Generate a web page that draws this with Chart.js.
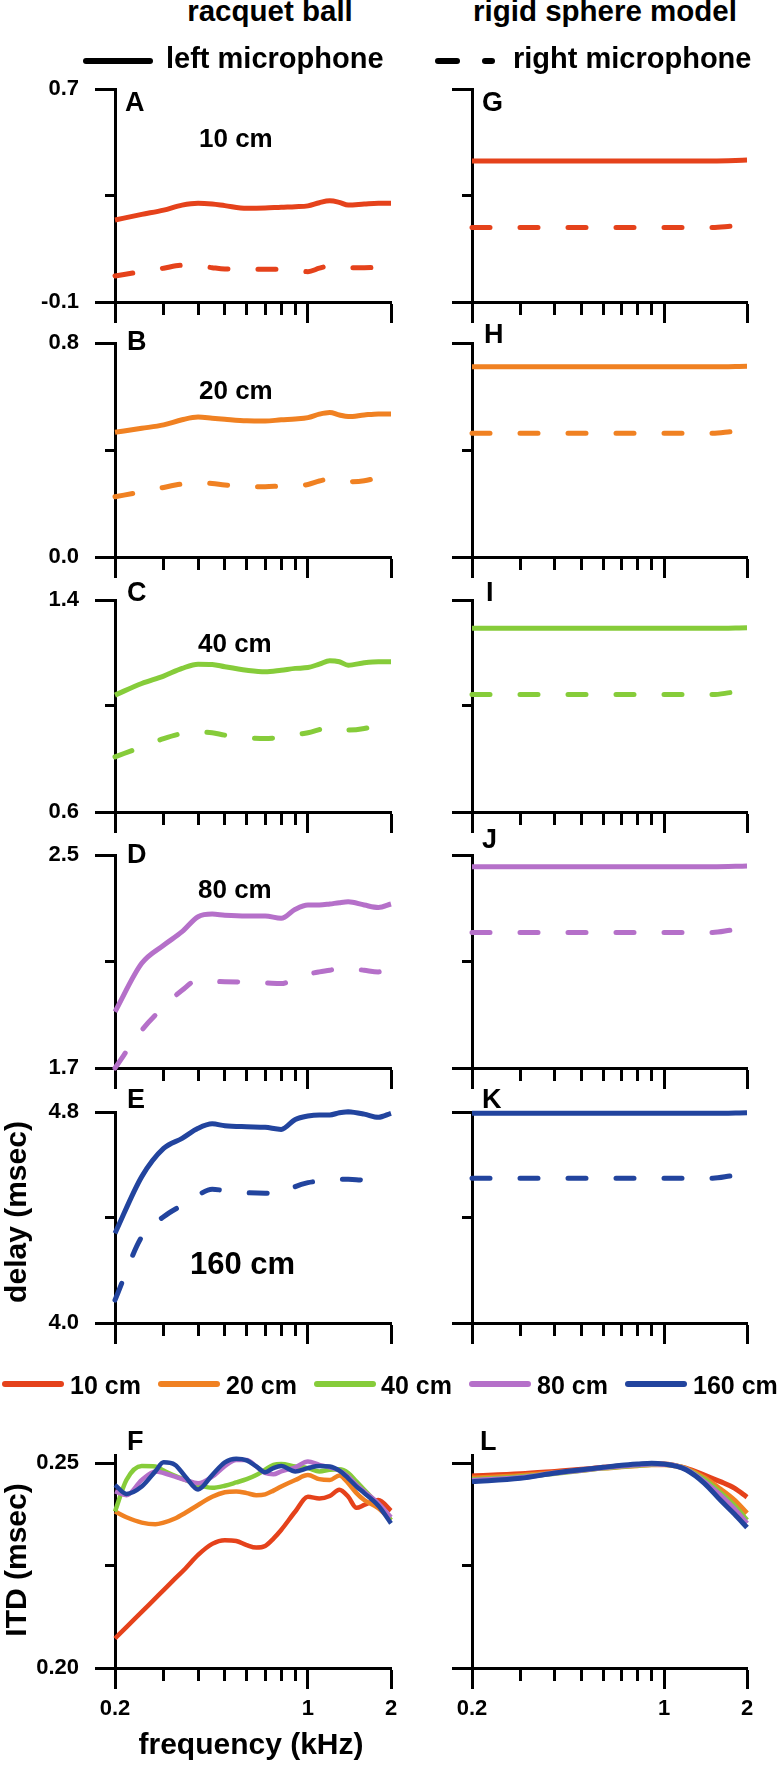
<!DOCTYPE html>
<html>
<head>
<meta charset="utf-8">
<title>delay and ITD vs frequency</title>
<script src="https://cdn.jsdelivr.net/npm/chart.js@4.4.0/dist/chart.umd.min.js"></script>
<style>
  body { margin: 0; background: #fff; }
  #page { position: relative; width: 779px; height: 1768px; overflow: hidden;
          font-family: "Liberation Sans", Arial, sans-serif; font-weight: bold; color: #000; }
  #page canvas { position: absolute; }
  .txt { position: absolute; white-space: nowrap; line-height: 1; }
  .bar { position: absolute; height: 6px; border-radius: 3px; }
</style>
</head>
<body>
<div id="page"></div>
<script>
// frequency axis (kHz)
const freqTicks = [0.2, 0.3, 0.4, 0.5, 0.6, 0.7, 0.8, 0.9, 1, 2];
const freqLabels = ['0.2', '', '', '', '', '', '', '', '1', '2'];
const freqMajor = [0.2, 1, 2];

const distances = ['10 cm', '20 cm', '40 cm', '80 cm', '160 cm'];
const colors = ['#e5421b', '#f08122', '#86cc3a', '#b570c9', '#22449e'];

// delay axes, one per row (msec)
const delayMin = [-0.1, 0.0, 0.6, 1.7, 4.0];
const delayMax = [0.7, 0.8, 1.4, 2.5, 4.8];
const delayMinText = ['-0.1', '0.0', '0.6', '1.7', '4.0'];
const delayMaxText = ['0.7', '0.8', '1.4', '2.5', '4.8'];

// racquet ball delays
const fDelay = [0.2, 0.25, 0.3, 0.35, 0.4, 0.45, 0.5, 0.6, 0.7, 0.8, 0.9, 1.0, 1.1, 1.2, 1.3, 1.4, 1.6, 1.8, 2.0];
const fDelayDash = [0.2, 0.25, 0.3, 0.35, 0.4, 0.45, 0.5, 0.6, 0.7, 0.8, 0.9, 1.0, 1.1, 1.2, 1.3, 1.4, 1.6, 1.75];

const ballLeft10 = [0.208, 0.229, 0.245, 0.264, 0.271, 0.268, 0.262, 0.252, 0.253, 0.256, 0.258, 0.261, 0.273, 0.280, 0.274, 0.264, 0.268, 0.271, 0.271];
const ballRight10 = [-0.002, 0.014, 0.027, 0.038, 0.036, 0.029, 0.024, 0.023, 0.023, 0.023, 0.018, 0.014, 0.027, 0.036, 0.032, 0.029, 0.029, 0.030];
const ballLeft20 = [0.466, 0.481, 0.494, 0.513, 0.523, 0.519, 0.515, 0.509, 0.508, 0.513, 0.516, 0.521, 0.534, 0.540, 0.531, 0.525, 0.531, 0.535, 0.535];
const ballRight20 = [0.225, 0.244, 0.260, 0.273, 0.278, 0.275, 0.269, 0.263, 0.263, 0.265, 0.266, 0.271, 0.284, 0.291, 0.288, 0.281, 0.285, 0.294];
const ballLeft40 = [1.041, 1.085, 1.113, 1.142, 1.158, 1.157, 1.148, 1.135, 1.129, 1.135, 1.142, 1.145, 1.158, 1.171, 1.167, 1.154, 1.163, 1.167, 1.167];
const ballRight40 = [0.808, 0.846, 0.877, 0.896, 0.902, 0.899, 0.890, 0.881, 0.877, 0.883, 0.892, 0.899, 0.911, 0.921, 0.917, 0.909, 0.915, 0.925];
const ballLeft80 = [1.911, 2.093, 2.161, 2.212, 2.268, 2.278, 2.274, 2.271, 2.271, 2.262, 2.296, 2.312, 2.312, 2.316, 2.321, 2.324, 2.312, 2.303, 2.316];
const ballRight80 = [1.700, 1.842, 1.929, 1.992, 2.030, 2.026, 2.024, 2.022, 2.020, 2.017, 2.036, 2.052, 2.061, 2.067, 2.074, 2.074, 2.067, 2.061, 2.083];
const ballLeft160 = [4.340, 4.555, 4.662, 4.700, 4.738, 4.755, 4.748, 4.744, 4.742, 4.734, 4.772, 4.785, 4.789, 4.789, 4.797, 4.801, 4.792, 4.780, 4.795];
const ballRight160 = [4.087, 4.327, 4.403, 4.447, 4.485, 4.507, 4.502, 4.494, 4.492, 4.489, 4.517, 4.532, 4.538, 4.542, 4.545, 4.545, 4.542, 4.549];

// rigid sphere model delays
const fModel = [0.2, 1.5, 2.0];
const fModelDash = [0.2, 1.5, 1.75];
const modelLeft10 = [0.430, 0.430, 0.433];
const modelRight10 = [0.180, 0.180, 0.185];
const modelLeft20 = [0.711, 0.711, 0.713];
const modelRight20 = [0.4625, 0.4625, 0.469];
const modelLeft40 = [1.293, 1.293, 1.295];
const modelRight40 = [1.043, 1.043, 1.051];
const modelLeft80 = [2.456, 2.456, 2.459];
const modelRight80 = [2.209, 2.209, 2.218];
const modelLeft160 = [4.795, 4.795, 4.797];
const modelRight160 = [4.549, 4.549, 4.558];

// ITD (msec)
const fItd = [0.2, 0.22, 0.25, 0.28, 0.3, 0.33, 0.36, 0.4, 0.45, 0.5, 0.55, 0.6, 0.65, 0.7, 0.75, 0.8, 0.9, 1.0, 1.1, 1.2, 1.3, 1.4, 1.5, 1.6, 1.8, 2.0];
const itdBall10 = [0.2072, 0.2100, 0.2137, 0.2170, 0.2190, 0.2218, 0.2243, 0.2276, 0.2303, 0.2312, 0.2310, 0.2300, 0.2294, 0.2298, 0.2316, 0.2337, 0.2382, 0.2418, 0.2414, 0.2420, 0.2435, 0.2418, 0.2391, 0.2398, 0.2410, 0.2384];
const itdBall20 = [0.2382, 0.2368, 0.2355, 0.2351, 0.2355, 0.2365, 0.2379, 0.2398, 0.2418, 0.2429, 0.2431, 0.2427, 0.2422, 0.2424, 0.2433, 0.2443, 0.2459, 0.2471, 0.2461, 0.2459, 0.2470, 0.2451, 0.2427, 0.2410, 0.2390, 0.2361];
const itdBall40 = [0.2382, 0.2459, 0.2493, 0.2492, 0.2482, 0.2469, 0.2459, 0.2447, 0.2440, 0.2445, 0.2453, 0.2461, 0.2471, 0.2484, 0.2496, 0.2498, 0.2492, 0.2488, 0.2480, 0.2484, 0.2485, 0.2476, 0.2455, 0.2435, 0.2398, 0.2361];
const itdBall80 = [0.2431, 0.2422, 0.2459, 0.2480, 0.2476, 0.2467, 0.2459, 0.2451, 0.2467, 0.2493, 0.2508, 0.2508, 0.2492, 0.2476, 0.2473, 0.2480, 0.2490, 0.2504, 0.2496, 0.2490, 0.2482, 0.2467, 0.2447, 0.2431, 0.2402, 0.2368];
const itdBall160 = [0.2447, 0.2425, 0.2443, 0.2480, 0.2502, 0.2496, 0.2467, 0.2436, 0.2471, 0.2502, 0.2511, 0.2507, 0.2492, 0.2478, 0.2488, 0.2493, 0.2480, 0.2488, 0.2493, 0.2492, 0.2482, 0.2463, 0.2443, 0.2427, 0.2396, 0.2353];

const fItdModel = [0.2, 0.3, 0.4, 0.5, 0.6, 0.7, 0.8, 0.9, 1.0, 1.1, 1.2, 1.4, 1.6, 1.8, 2.0];
const itdModel10 = [0.2469, 0.2474, 0.2480, 0.2485, 0.2490, 0.2493, 0.2496, 0.2498, 0.2498, 0.2494, 0.2488, 0.2471, 0.2455, 0.2439, 0.2417];
const itdModel20 = [0.2464, 0.2470, 0.2477, 0.2483, 0.2488, 0.2491, 0.2494, 0.2496, 0.2496, 0.2493, 0.2487, 0.2465, 0.2437, 0.2410, 0.2378];
const itdModel40 = [0.2460, 0.2467, 0.2475, 0.2482, 0.2488, 0.2492, 0.2495, 0.2497, 0.2497, 0.2494, 0.2486, 0.2460, 0.2428, 0.2396, 0.2361];
const itdModel80 = [0.2458, 0.2465, 0.2476, 0.2483, 0.2489, 0.2493, 0.2496, 0.2498, 0.2497, 0.2494, 0.2485, 0.2455, 0.2422, 0.2388, 0.2353];
const itdModel160 = [0.2455, 0.2463, 0.2476, 0.2484, 0.2490, 0.2495, 0.2498, 0.2500, 0.2498, 0.2493, 0.2484, 0.2451, 0.2410, 0.2376, 0.2343];

const itdMin = 0.20, itdMax = 0.252;
const itdTicks = [0.20, 0.225, 0.25];
const itdTickText = ['0.20', '', '0.25'];

Chart.defaults.font.family = '"Liberation Sans", Arial, sans-serif';
Chart.defaults.font.weight = 'bold';
Chart.defaults.color = '#000';

const page = document.getElementById('page');

// layout of the plot areas (pixels)
const rowTop = [89, 343, 600, 855, 1112, 1455];
const rowBottom = [302, 557, 812, 1068, 1323, 1668];

function addText(str, left, top, size, extra) {
  const d = document.createElement('div');
  d.className = 'txt';
  d.textContent = str;
  d.style.left = left + 'px';
  d.style.top = top + 'px';
  d.style.fontSize = size + 'px';
  if (extra) Object.assign(d.style, extra);
  page.appendChild(d);
  return d;
}

function addBar(left, top, width, color) {
  const b = document.createElement('div');
  b.className = 'bar';
  b.style.left = left + 'px';
  b.style.top = top + 'px';
  b.style.width = width + 'px';
  b.style.background = color;
  page.appendChild(b);
}

function series(xs, ys, color, dashed, width, order) {
  return {
    data: xs.map((x, i) => ({ x: x, y: ys[i] })),
    borderColor: color,
    borderWidth: width,
    borderDash: dashed ? [18, 30] : [],
    borderCapStyle: dashed ? 'round' : 'butt',
    borderJoinStyle: 'round',
    cubicInterpolationMode: 'monotone',
    pointRadius: 0,
    fill: false,
    clip: 6,
    order: order || 0
  };
}

function makePanel(col, row, datasets, yMin, yMax, yTicks, yLabels) {
  const left = col === 0 ? 0 : 420;
  const width = col === 0 ? 420 : 359;
  const axisW = col === 0 ? 115 : 52;
  const padR = col === 0 ? 29 : 32;
  const padT = 20;
  const bottomRow = row === 5;
  const axisH = bottomRow ? 60 : 25;
  const top = rowTop[row] - padT;
  const height = rowBottom[row] - rowTop[row] + padT + axisH;

  const cv = document.createElement('canvas');
  cv.width = width;
  cv.height = height;
  cv.style.left = left + 'px';
  cv.style.top = top + 'px';
  page.appendChild(cv);

  new Chart(cv, {
    type: 'line',
    data: { datasets: datasets },
    options: {
      responsive: false,
      animation: false,
      devicePixelRatio: 1,
      layout: { padding: { top: padT, right: padR, left: 0, bottom: 0 } },
      plugins: { legend: { display: false }, tooltip: { enabled: false } },
      scales: {
        x: {
          type: 'logarithmic',
          min: 0.2,
          max: 2,
          afterBuildTicks: s => { s.ticks = freqTicks.map(v => ({ value: v })); },
          afterFit: s => { s.height = axisH; s.paddingLeft = 0; s.paddingRight = 0; },
          border: { display: true, color: '#000', width: 3 },
          grid: {
            drawOnChartArea: false,
            drawTicks: true,
            tickLength: 21,
            tickWidth: 3,
            tickColor: '#000',
            tickBorderDash: c => (c.tick && freqMajor.includes(c.tick.value)) ? [] : [11, 40]
          },
          ticks: {
            display: bottomRow,
            autoSkip: false,
            maxRotation: 0,
            padding: 7,
            font: { size: 22, weight: 'bold' },
            color: '#000',
            callback: (v, i) => freqLabels[i]
          }
        },
        y: {
          type: 'linear',
          min: yMin,
          max: yMax,
          afterBuildTicks: s => { s.ticks = yTicks.map(v => ({ value: v })); },
          afterFit: s => { s.width = axisW; s.paddingTop = 0; s.paddingBottom = 0; },
          border: { display: true, color: '#000', width: 3 },
          grid: {
            drawOnChartArea: false,
            drawTicks: true,
            tickLength: 20,
            tickWidth: 3,
            tickColor: '#000',
            tickBorderDash: c => (c.index === 1) ? [0, 10, 30, 0] : []
          },
          ticks: {
            autoSkip: false,
            padding: 16,
            font: { size: 22, weight: 'bold' },
            color: '#000',
            callback: (v, i) => yLabels[i]
          }
        }
      }
    }
  });
}

// delay rows A-E (racquet ball) and G-K (rigid sphere model)
const ballLeft = [ballLeft10, ballLeft20, ballLeft40, ballLeft80, ballLeft160];
const ballRight = [ballRight10, ballRight20, ballRight40, ballRight80, ballRight160];
const ballRightF = [fDelayDash, fDelayDash, fDelayDash, fDelay, fDelayDash];
const modelLeft = [modelLeft10, modelLeft20, modelLeft40, modelLeft80, modelLeft160];
const modelRight = [modelRight10, modelRight20, modelRight40, modelRight80, modelRight160];

for (let r = 0; r < 5; r++) {
  const mid = (delayMin[r] + delayMax[r]) / 2;
  const ticks = [delayMin[r], mid, delayMax[r]];
  makePanel(0, r, [
    series(fDelay, ballLeft[r], colors[r], false, 5),
    series(ballRightF[r], ballRight[r], colors[r], true, 5)
  ], delayMin[r], delayMax[r], ticks, [delayMinText[r], '', delayMaxText[r]]);
  makePanel(1, r, [
    series(fModel, modelLeft[r], colors[r], false, 5),
    series(fModelDash, modelRight[r], colors[r], true, 5)
  ], delayMin[r], delayMax[r], ticks, ['', '', '']);
}

// ITD row F and L
const itdBall = [itdBall10, itdBall20, itdBall40, itdBall80, itdBall160];
const itdModel = [itdModel10, itdModel20, itdModel40, itdModel80, itdModel160];
makePanel(0, 5, itdBall.map((ys, i) => series(fItd, ys, colors[i], false, 4.5, 4 - i)),
  itdMin, itdMax, itdTicks, itdTickText);
makePanel(1, 5, itdModel.map((ys, i) => series(fItdModel, ys, colors[i], false, 5, 4 - i)),
  itdMin, itdMax, itdTicks, ['', '', '']);

// titles and line style key
const center = { transform: 'translateX(-50%)' };
addText('racquet ball', 270, -4, 29.5, center);
addText('rigid sphere model', 605, -4, 29.5, center);
addBar(83, 58, 70, '#000');
addText('left microphone', 166, 44, 29);
addBar(435, 58, 25, '#000');
addBar(482, 58, 13, '#000');
addText('right microphone', 513, 44, 29);

// panel letters
const letters = [['A', 125, 89], ['G', 482, 89], ['B', 127, 328], ['H', 484, 321],
  ['C', 127, 579], ['I', 486, 579], ['D', 127, 841], ['J', 482, 826],
  ['E', 127, 1086], ['K', 482, 1086], ['F', 127, 1428], ['L', 480, 1428]];
letters.forEach(l => addText(l[0], l[1], l[2], 27));

// distance labels inside racquet ball panels
addText(distances[0], 199, 125, 26);
addText(distances[1], 199, 377, 26);
addText(distances[2], 198, 630, 26);
addText(distances[3], 198, 876, 26);
addText(distances[4], 190, 1248, 31);

// axis titles
const rot = { transform: 'translate(-50%, -50%) rotate(-90deg)' };
addText('delay (msec)', 16, 1212, 30, rot);
addText('ITD (msec)', 16, 1560, 30, rot);
addText('frequency (kHz)', 251, 1729, 30, center);

// colour key
const keyBarLeft = [2, 158, 314, 469, 625];
const keyTextLeft = [70, 226, 381, 537, 693];
distances.forEach((d, i) => {
  addBar(keyBarLeft[i], 1381, 62, colors[i]);
  addText(d, keyTextLeft[i], 1373, 25);
});
</script>
</body>
</html>
